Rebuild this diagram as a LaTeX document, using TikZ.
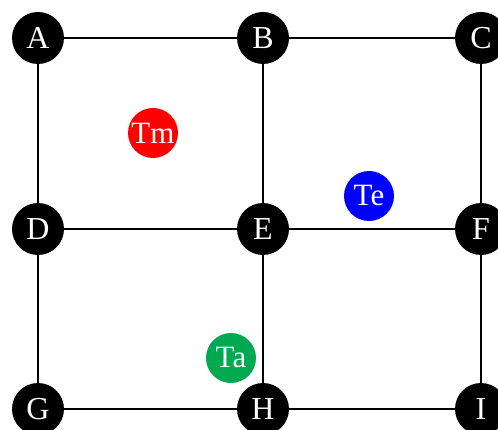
\documentclass[tikz,border=0pt]{standalone}
\usepackage{fontspec}
\setmainfont{Liberation Serif}
\definecolor{tagred}{RGB}{255,0,0}
\definecolor{tagblue}{RGB}{0,0,255}
\definecolor{taggreen}{RGB}{0,168,80}
\begin{document}
\begin{tikzpicture}[x=1pt,y=-1pt,
  vert/.style={circle,fill=black,text=white,inner sep=0pt,minimum size=52pt,font=\fontsize{32}{32}\selectfont},
  tagnode/.style={circle,text=white,inner sep=0pt,minimum size=50pt,font=\fontsize{31}{31}\selectfont},
  edge/.style={line width=2pt,black}]
\useasboundingbox (0,0) rectangle (498,430);
\node[vert] (A) at (38,38) {A};
\node[vert] (B) at (263,38) {B};
\node[vert] (C) at (481,38) {C};
\node[vert] (D) at (38,229) {D};
\node[vert] (E) at (263,229) {E};
\node[vert] (F) at (481,229) {F};
\node[vert] (G) at (38,409) {G};
\node[vert] (H) at (263,409) {H};
\node[vert] (I) at (481,409) {I};
\node[tagnode,fill=tagred] (Tm) at (153,133) {Tm};
\node[tagnode,fill=tagblue] (Te) at (369,196) {Te};
\node[tagnode,fill=taggreen] (Ta) at (231,358) {Ta};
\draw[edge] (A) -- (B);
\draw[edge] (B) -- (C);
\draw[edge] (D) -- (E);
\draw[edge] (E) -- (F);
\draw[edge] (G) -- (H);
\draw[edge] (H) -- (I);
\draw[edge] (A) -- (D);
\draw[edge] (D) -- (G);
\draw[edge] (B) -- (E);
\draw[edge] (E) -- (H);
\draw[edge] (C) -- (F);
\draw[edge] (F) -- (I);
\end{tikzpicture}
\end{document}
